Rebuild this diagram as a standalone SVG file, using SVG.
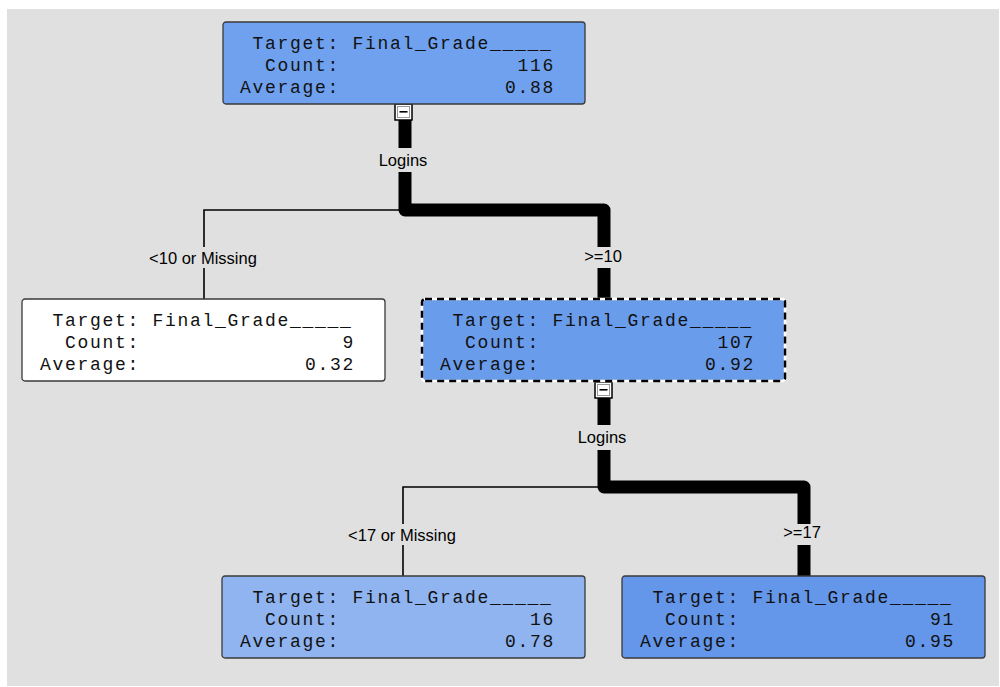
<svg xmlns="http://www.w3.org/2000/svg" width="1000" height="687" viewBox="0 0 1000 687">
<style>
.box{stroke:#3a3a3a;stroke-width:1.3}
.t{font-family:"Liberation Mono","Courier New",monospace;font-size:18px;letter-spacing:1.7px;fill:#111}
.v{text-anchor:end}
.lbl{font-family:"Liberation Sans",Arial,sans-serif;font-size:16.5px;fill:#000;text-anchor:middle}
.thick{fill:none;stroke:#000;stroke-width:13;stroke-linejoin:round}
.thin{fill:none;stroke:#000;stroke-width:1.6}
.tog{fill:#fff;stroke:#000;stroke-width:1.5}
</style>
<defs>
<g id="toggle">
<rect class="tog" x="-8.5" y="0" width="17" height="16"/>
<rect x="-6" y="2.5" width="12" height="11" fill="none" stroke="#999" stroke-width="1"/>
<rect x="-4" y="7" width="8" height="1.6" fill="#000"/>
</g>
</defs>
<rect x="0" y="0" width="1000" height="687" fill="#ffffff"/>
<rect x="7" y="9" width="992" height="677" fill="#e0e0e0"/>

<g id="connectors">
<path class="thick" d="M405,120 V148"/>
<path class="thick" d="M405,172 V210 H604 V247"/>
<path class="thick" d="M604,268 V299"/>
<path class="thin" d="M405,210 H204 V247"/>
<path class="thin" d="M204,268 V299"/>
<use href="#toggle" x="403.5" y="104"/>
<text class="lbl" x="403" y="166">Logins</text>
<text class="lbl" x="203" y="264">&lt;10 or Missing</text>
<text class="lbl" x="603" y="262">&gt;=10</text>

<path class="thick" d="M604,398 V425"/>
<path class="thick" d="M604,450 V487 H804 V524"/>
<path class="thick" d="M804,545 V576"/>
<path class="thin" d="M604,487 H403 V524"/>
<path class="thin" d="M403,545 V576"/>
<use href="#toggle" x="603.5" y="382"/>
<text class="lbl" x="602" y="443">Logins</text>
<text class="lbl" x="402" y="541">&lt;17 or Missing</text>
<text class="lbl" x="802" y="538">&gt;=17</text>
</g>

<g id="node-root" transform="translate(223,22)">
<rect class="box" x="0" y="0" width="362" height="82" rx="3" fill="#6fa1ee"/>
<text class="t" x="29.5" y="27">Target: Final_Grade_____</text>
<text class="t" x="42" y="49">Count:</text>
<text class="t v" x="332" y="49">116</text>
<text class="t" x="17" y="71">Average:</text>
<text class="t v" x="332" y="71">0.88</text>
</g>

<g id="node-left" transform="translate(22,299)">
<rect class="box" x="0" y="0" width="363" height="82" rx="3" fill="#ffffff"/>
<text class="t" x="30.5" y="27">Target: Final_Grade_____</text>
<text class="t" x="43" y="49">Count:</text>
<text class="t v" x="333" y="49">9</text>
<text class="t" x="18" y="71">Average:</text>
<text class="t v" x="333" y="71">0.32</text>
</g>

<g id="node-mid" transform="translate(422,299)">
<rect x="0" y="0" width="363" height="82" rx="3" fill="#6a9cec" stroke="#ffffff" stroke-width="2.5"/>
<rect x="0" y="0" width="363" height="82" rx="3" fill="none" stroke="#000" stroke-width="2.5" stroke-dasharray="7,5"/>
<text class="t" x="30.5" y="27">Target: Final_Grade_____</text>
<text class="t" x="43" y="49">Count:</text>
<text class="t v" x="333" y="49">107</text>
<text class="t" x="18" y="71">Average:</text>
<text class="t v" x="333" y="71">0.92</text>
</g>

<g id="node-bl" transform="translate(222,576)">
<rect class="box" x="0" y="0" width="363" height="82" rx="3" fill="#8fb4f0"/>
<text class="t" x="30.5" y="27">Target: Final_Grade_____</text>
<text class="t" x="43" y="49">Count:</text>
<text class="t v" x="333" y="49">16</text>
<text class="t" x="18" y="71">Average:</text>
<text class="t v" x="333" y="71">0.78</text>
</g>

<g id="node-br" transform="translate(622,576)">
<rect class="box" x="0" y="0" width="363" height="82" rx="3" fill="#6496ea"/>
<text class="t" x="30.5" y="27">Target: Final_Grade_____</text>
<text class="t" x="43" y="49">Count:</text>
<text class="t v" x="333" y="49">91</text>
<text class="t" x="18" y="71">Average:</text>
<text class="t v" x="333" y="71">0.95</text>
</g>
</svg>
